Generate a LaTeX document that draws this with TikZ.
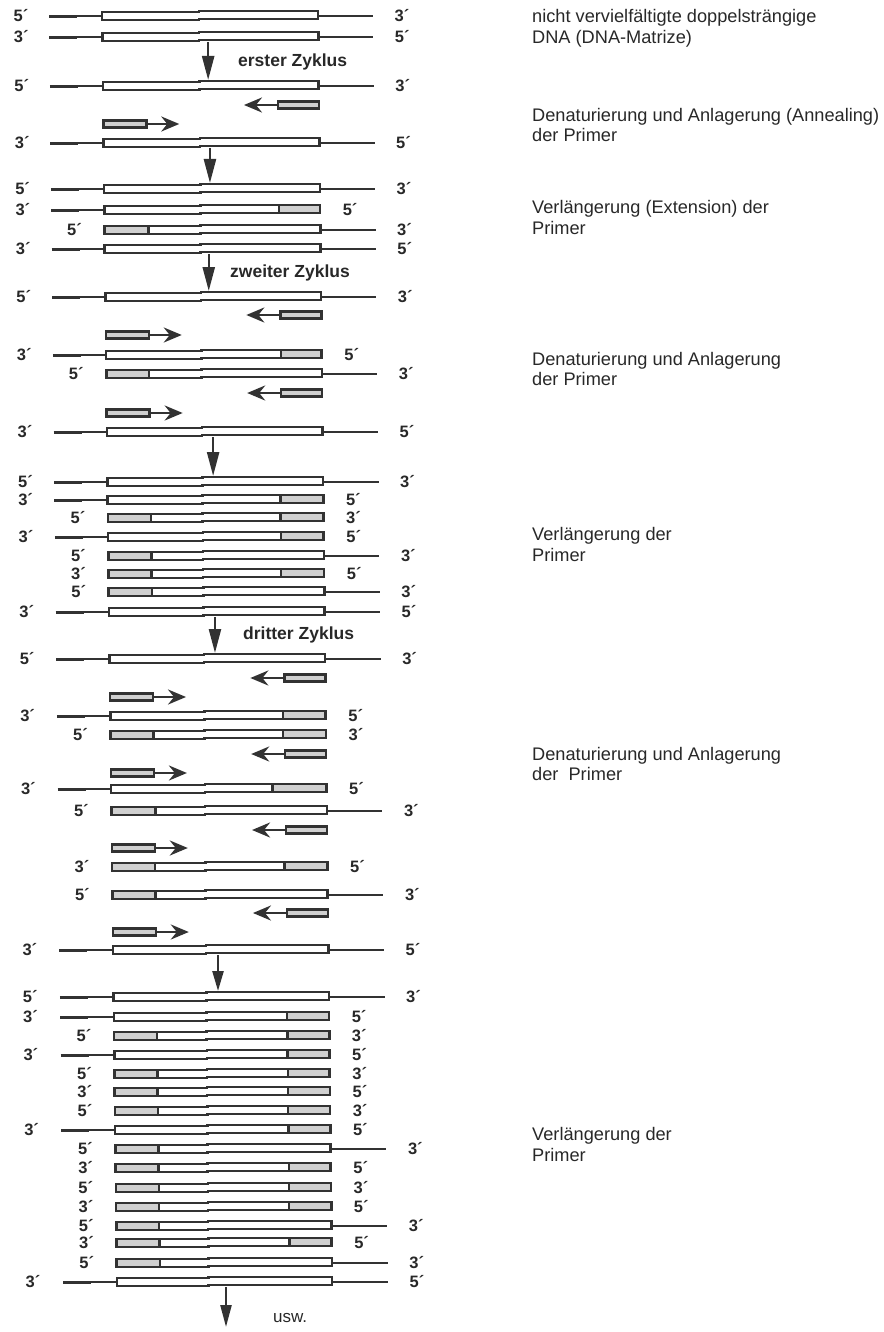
\documentclass[tikz,border=0pt]{standalone}
\usepackage{fontspec}
\setmainfont{Liberation Sans}
\usetikzlibrary{arrows.meta}
\definecolor{ink}{RGB}{50,50,50}
\definecolor{txt}{RGB}{40,40,40}
\definecolor{stip}{RGB}{208,208,208}
\tikzset{
 boxline/.style={draw=ink, line width=2.6pt, line join=miter},
 tail/.style={draw=ink, line width=2.8pt},
 shaded/.style={fill=stip},
 divider/.style={draw=ink, line width=2.4pt},
 primerbox/.style={draw=ink, line width=2.5pt, fill=stip},
 primerarrow/.style={draw=ink, line width=2.8pt, -{Stealth[length=18pt,width=15pt,inset=6pt]}},
 cycarrow/.style={draw=ink, line width=2.4pt, -{Triangle[length=24pt,width=12pt]}},
 endlabel/.style={font=\bfseries\fontsize{16.5}{16.5}\selectfont, text=txt, inner sep=0pt},
 cyclabel/.style={font=\bfseries\fontsize{17.5}{20}\selectfont, text=txt, anchor=west, inner sep=0pt},
 desc/.style={font=\fontsize{18.2}{20.5}\selectfont, text=txt, anchor=west, align=left, inner sep=0pt},
}
% #1 name, #2 y, #3 left tail, #4 left label, #5 right tail, #6 right label, #7 left shade width, #8 right shade width
\newcommand\strand[8]{%
 \pgfmathsetmacro\bl{102+(#2-16)*0.0118}%
 \pgfmathsetmacro\br{318+(#2-16)*0.0111}%
 \pgfmathsetmacro\bk{199+(#2-16)*0.0075}%
 \pgfmathsetmacro\lx{49+(#2-16)*0.0112}%
 \pgfmathsetmacro\rx{373+(#2-16)*0.0118}%
 \pgfmathsetmacro\lo{21+(#2-16)*0.0095}%
 \ifnum#3=1\relax
  \draw[tail] (\lx,#2+0.6) -- (\lx+28,#2+0.6);
  \draw[tail] (\lx+28,#2) -- (\bl,#2);
  \node[endlabel] (#1-l) at (\lo,#2) {#4´};
 \else
  \node[endlabel] (#1-l) at (\bl-30,#2) {#4´};
 \fi
 \ifnum#5=1\relax
  \draw[tail] (\br,#2) -- (\rx,#2);
  \node[endlabel] (#1-r) at (\rx+29,#2) {#6´};
 \else
  \node[endlabel] (#1-r) at (\br+30,#2) {#6´};
 \fi
 \fill[white] (\bl,#2-4) -- (\bk,#2-4) -- (\bk,#2-5) -- (\br,#2-5) -- (\br,#2+3) -- (\bk,#2+3) -- (\bk,#2+4) -- (\bl,#2+4) -- cycle;
 \ifdim#7pt>0pt
  \fill[shaded] (\bl,#2-4) rectangle (\bl+#7,#2+4);
  \draw[divider] (\bl+#7,#2-4) -- (\bl+#7,#2+4);
 \fi
 \ifdim#8pt>0pt
  \fill[shaded] (\br-#8,#2-5) rectangle (\br,#2+3);
  \draw[divider] (\br-#8,#2-5) -- (\br-#8,#2+3);
 \fi
 \draw[boxline] (\bl,#2-4) -- (\bk,#2-4) -- (\bk,#2-5) -- (\br,#2-5) -- (\br,#2+3) -- (\bk,#2+3) -- (\bk,#2+4) -- (\bl,#2+4) -- cycle;
 \coordinate (#1-t) at (\bk,#2-6);
 \coordinate (#1-b) at (\bk,#2+5);
}
\newcommand\fwdprimer[2]{%
 \pgfmathsetmacro\bl{102+(#2-16)*0.0118}%
 \draw[primerbox] (\bl,#2-3.5) rectangle (\bl+43,#2+3.5);
 \coordinate (#1-s) at (\bl+43,#2);
 \coordinate (#1-e) at (\bl+76,#2);
 \draw[primerarrow] (#1-s) -- (#1-e);
}
\newcommand\revprimer[2]{%
 \pgfmathsetmacro\br{318+(#2-16)*0.0111}%
 \draw[primerbox] (\br-41,#2-3.5) rectangle (\br,#2+3.5);
 \coordinate (#1-s) at (\br-41,#2);
 \coordinate (#1-e) at (\br-75,#2);
 \draw[primerarrow] (#1-s) -- (#1-e);
}
\begin{document}
\begin{tikzpicture}[x=1pt,y=-1pt]
\useasboundingbox (0,0) rectangle (883,1332);
% ---- initial template
\strand{r1}{16}{1}{5}{1}{3}{0}{0}
\strand{r2}{37}{1}{3}{1}{5}{0}{0}
% ---- first cycle
\strand{r3}{86}{1}{5}{1}{3}{0}{0}
\revprimer{p1}{105}
\fwdprimer{p2}{124}
\strand{r4}{143}{1}{3}{1}{5}{0}{0}
\strand{r5}{189}{1}{5}{1}{3}{0}{0}
\strand{r6}{210}{1}{3}{0}{5}{0}{41}
\strand{r7}{230}{0}{5}{1}{3}{44}{0}
\strand{r8}{249}{1}{3}{1}{5}{0}{0}
% ---- second cycle
\strand{r9}{297}{1}{5}{1}{3}{0}{0}
\revprimer{p3}{315}
\fwdprimer{p4}{335}
\strand{r10}{355}{1}{3}{0}{5}{0}{41}
\strand{r11}{374}{0}{5}{1}{3}{43}{0}
\revprimer{p5}{393}
\fwdprimer{p6}{413}
\strand{r12}{432}{1}{3}{1}{5}{0}{0}
\strand{r13}{482}{1}{5}{1}{3}{0}{0}
\strand{r14}{500}{1}{3}{0}{5}{0}{43}
\strand{r15}{518}{0}{5}{0}{3}{43}{43}
\strand{r16}{537}{1}{3}{0}{5}{0}{43}
\strand{r17}{556}{0}{5}{1}{3}{43}{0}
\strand{r18}{574}{0}{3}{0}{5}{43}{43}
\strand{r19}{592}{0}{5}{1}{3}{43}{0}
\strand{r20}{612}{1}{3}{1}{5}{0}{0}
% ---- third cycle
\strand{r21}{659}{1}{5}{1}{3}{0}{0}
\revprimer{p7}{678}
\fwdprimer{p8}{697}
\strand{r22}{716}{1}{3}{0}{5}{0}{43}
\strand{r23}{735}{0}{5}{0}{3}{43}{43}
\revprimer{p9}{754}
\fwdprimer{p10}{773}
\strand{r24}{789}{1}{3}{0}{5}{0}{54}
\strand{r25}{811}{0}{5}{1}{3}{44}{0}
\revprimer{p11}{830}
\fwdprimer{p12}{848}
\strand{r26}{867}{0}{3}{0}{5}{43}{43}
\strand{r27}{895}{0}{5}{1}{3}{43}{0}
\revprimer{p13}{913}
\fwdprimer{p14}{932}
\strand{r28}{950}{1}{3}{1}{5}{0}{0}
\strand{r29}{997}{1}{5}{1}{3}{0}{0}
\strand{r30}{1017}{1}{3}{0}{5}{0}{42}
\strand{r31}{1036}{0}{5}{0}{3}{43}{42}
\strand{r32}{1055}{1}{3}{0}{5}{0}{42}
\strand{r33}{1074}{0}{5}{0}{3}{43}{42}
\strand{r34}{1092}{0}{3}{0}{5}{43}{42}
\strand{r35}{1111}{0}{5}{0}{3}{43}{42}
\strand{r36}{1130}{1}{3}{0}{5}{0}{42}
\strand{r37}{1149}{0}{5}{1}{3}{43}{0}
\strand{r38}{1168}{0}{3}{0}{5}{43}{42}
\strand{r39}{1188}{0}{5}{0}{3}{43}{42}
\strand{r40}{1207}{0}{3}{0}{5}{43}{42}
\strand{r41}{1226}{0}{5}{1}{3}{43}{0}
\strand{r42}{1243}{0}{3}{0}{5}{43}{42}
\strand{r43}{1263}{0}{5}{1}{3}{43}{0}
\strand{r44}{1282}{1}{3}{1}{5}{0}{0}
% ---- cycle arrows
\draw[cycarrow] ([xshift=9pt]r2-b) -- ([xshift=9pt]r2-b |- r3-t);
\draw[cycarrow] ([xshift=10pt]r4-b) -- ([xshift=10pt]r4-b |- r5-t);
\draw[cycarrow] ([xshift=8pt]r8-b) -- ([xshift=8pt]r8-b |- r9-t);
\draw[cycarrow] ([xshift=11pt]r12-b) -- ([xshift=11pt]r12-b |- r13-t);
\draw[cycarrow] ([xshift=11.5pt]r20-b) -- ([xshift=11.5pt]r20-b |- r21-t);
\draw[cycarrow, -{Triangle[length=20pt,width=11pt]}] ([xshift=12pt]r28-b) -- ([xshift=12pt]r28-b |- r29-t);
\coordinate (fin) at (226,1327);
\draw[cycarrow, -{Triangle[length=22pt,width=11pt]}] (fin |- r44-b) -- (fin);
% ---- cycle labels
\node[cyclabel] (c1) at (238,62) {erster Zyklus};
\node[cyclabel] (c2) at (230,273) {zweiter Zyklus};
\node[cyclabel] (c3) at (243,635) {dritter Zyklus};
\node[desc, font=\fontsize{17}{20}\selectfont] (usw) at (273,1318) {usw.};
% ---- descriptions
\node[desc] (d1) at (532,28.5) {nicht vervielfältigte doppelsträngige\\DNA (DNA-Matrize)};
\node[desc] (d2) at (532,125) {Denaturierung und Anlagerung (Annealing)\\der Primer};
\node[desc] (d3) at (532,217.5) {Verlängerung (Extension) der\\Primer};
\node[desc] (d4) at (532,369) {Denaturierung und Anlagerung\\der Primer};
\node[desc] (d5) at (532,544.5) {Verlängerung der\\Primer};
\node[desc] (d6) at (532,764) {Denaturierung und Anlagerung\\der\ \ Primer};
\node[desc] (d7) at (532,1144.5) {Verlängerung der\\Primer};
\end{tikzpicture}
\end{document}
